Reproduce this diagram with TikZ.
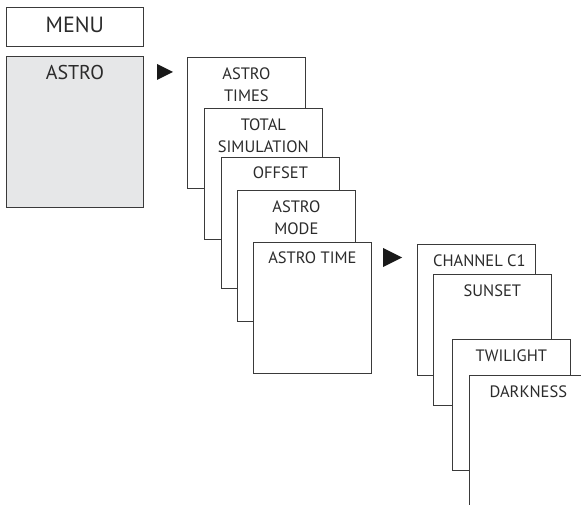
\documentclass[tikz,border=0pt]{standalone}
\usepackage{fontspec}
\setmainfont{PT Sans}
\definecolor{linec}{HTML}{3A3A3A}
\definecolor{greyfill}{HTML}{E6E7E8}
\definecolor{textc}{HTML}{2B2B2B}
\begin{document}
\begin{tikzpicture}[x=1pt,y=-1pt,
  box/.style={draw=linec, line width=0.75pt, fill=white, inner sep=0pt, anchor=north west},
  menubox/.style={box, minimum width=137pt, minimum height=39pt},
  bigbox/.style={box, minimum width=137pt, minimum height=151pt, fill=greyfill},
  sub/.style={box, minimum width=118pt, minimum height=131pt},
  lbl/.style={inner sep=0pt, anchor=north, align=center, text=textc, font=\fontsize{16.5}{21.5}\selectfont},
  biglbl/.style={lbl, font=\fontsize{22}{26}\selectfont},
  tri/.style={fill=black!90}]
\useasboundingbox (0,0) rectangle (581,505);
\clip (0,0) rectangle (581,505);
% left column
\node[menubox] (menu) at (6,7) {};
\node[biglbl] (menut) at ([yshift=-10pt]menu.north) {MENU};
\node[bigbox] (astro) at (6,56) {};
\node[lbl, font=\fontsize{20}{24}\selectfont] (astrot) at ([yshift=-9pt]astro.north) {ASTRO};
\fill[tri] (157,64) -- (173,72) -- (157,80) -- cycle;
% middle cascade
\node[sub] (times) at (187,57) {};
\node[lbl] (timest) at ([yshift=-11pt]times.north) {ASTRO\\TIMES};
\node[sub] (total) at (204,108) {};
\node[lbl] (totalt) at ([yshift=-11pt]total.north) {TOTAL\\SIMULATION};
\node[sub] (offset) at (221,157) {};
\node[lbl] (offsett) at ([yshift=-10pt]offset.north) {OFFSET};
\node[sub] (mode) at (237,190) {};
\node[lbl] (modet) at ([yshift=-11pt]mode.north) {ASTRO\\MODE};
\node[sub] (time) at (253,242) {};
\node[lbl] (timet) at ([yshift=-10pt]time.north) {ASTRO TIME};
\fill[tri] (383,248) -- (402,257.5) -- (383,267) -- cycle;
% right cascade
\node[sub] (chan) at (417,244) {};
\node[lbl] (chant) at ([xshift=3pt,yshift=-11pt]chan.north) {CHANNEL C1};
\node[sub] (sunset) at (433,274) {};
\node[lbl] (sunsett) at ([yshift=-11pt]sunset.north) {SUNSET};
\node[sub] (twi) at (452,339) {};
\node[lbl] (twit) at ([yshift=-11pt]twi.north) {TWILIGHT};
\node[sub] (dark) at (469,375) {};
\node[lbl] (darkt) at ([yshift=-11pt]dark.north) {DARKNESS};
\end{tikzpicture}
\end{document}
